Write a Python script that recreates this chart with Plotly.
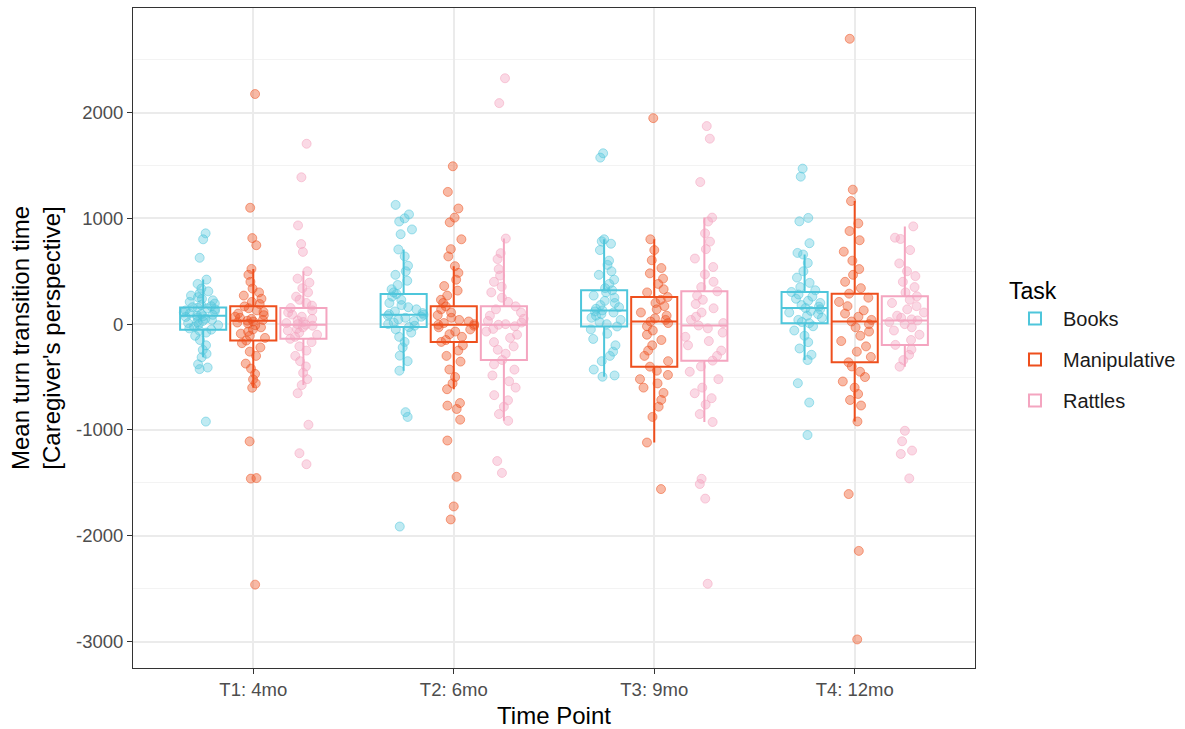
import plotly.graph_objects as go

time_points = ["T1: 4mo", "T2: 6mo", "T3: 9mo", "T4: 12mo"]
tasks = ["Books", "Manipulative", "Rattles"]

books_t1 = [858, 802, 627, 421, 380, 336, 310, 290, 270, 255, 240, 225, 210, 195, 180, 170, 160, 155,
            150, 140, 130, 120, 110, 100, 95, 88, 80, 75, 68, 60, 50, 40, 30, 20, 10, 0, -10, -25, -40,
            -52, -60, -80, -110, -150, -200, -243, -280, -313, -380, -410, -425, -921]
books_t2 = [1127, 1037, 1000, 970, 895, 850, 706, 640, 552, 500, 466, 410, 370, 330, 300, 285, 260, 230,
            200, 180, 160, 140, 120, 105, 95, 89, 80, 70, 60, 45, 30, 15, 0, -15, -28, -50, -80, -120,
            -168, -220, -298, -350, -440, -832, -877, -1913]
books_t3 = [1615, 1574, 802, 783, 760, 700, 600, 560, 500, 466, 420, 380, 340, 320, 300, 270, 250, 220,
            200, 180, 160, 145, 130, 120, 110, 95, 80, 60, 40, 20, 0, -22, -50, -90, -140, -200, -260,
            -300, -350, -429, -485, -497]
books_t4 = [1470, 1394, 1004, 972, 765, 673, 658, 578, 500, 440, 390, 350, 320, 304, 280, 260, 240, 220,
            200, 180, 165, 152, 140, 125, 110, 95, 80, 60, 40, 20, 9, -20, -60, -110, -170, -230, -290,
            -339, -558, -741, -1048]

manip_t1 = [2175, 1100, 813, 746, 522, 466, 400, 336, 300, 270, 240, 210, 190, 168, 150, 130, 115, 100,
            85, 70, 60, 50, 40, 32, 25, 15, 5, -10, -30, -50, -70, -90, -110, -130, -155, -180, -220,
            -260, -300, -373, -420, -470, -522, -560, -601, -1108, -1455, -1460, -2462]
manip_t2 = [1492, 1250, 1093, 1007, 962, 802, 709, 640, 548, 485, 420, 360, 317, 270, 230, 200, 168, 140,
            110, 85, 60, 40, 25, 10, 0, -6, -15, -30, -50, -70, -95, -120, -150, -168, -200, -250, -300,
            -354, -429, -500, -560, -615, -746, -770, -802, -903, -1100, -1443, -1723, -1846]
manip_t3 = [1947, 802, 700, 604, 530, 480, 430, 380, 330, 300, 256, 230, 200, 170, 140, 110, 80, 55, 40,
            25, 10, -20, -60, -100, -150, -200, -250, -300, -350, -402, -440, -480, -520, -560, -600,
            -650, -716, -780, -877, -1119, -1559]
manip_t4 = [2697, 1271, 1163, 952, 880, 793, 685, 600, 520, 466, 400, 340, 288, 250, 210, 170, 130, 100,
            70, 40, 25, 0, -30, -70, -110, -160, -210, -260, -310, -361, -400, -450, -500, -542, -600,
            -660, -717, -769, -920, -1606, -2143, -2980]

rattles_t1 = [1705, 1388, 933, 757, 683, 500, 430, 392, 340, 300, 260, 230, 200, 175, 152, 130, 110, 90,
              70, 50, 35, 20, 10, 0, -6, -15, -30, -45, -60, -80, -100, -120, -139, -170, -210, -250,
              -300, -350, -400, -460, -520, -576, -653, -951, -1220, -1324]
rattles_t2 = [2324, 2089, 809, 671, 615, 520, 459, 400, 354, 300, 250, 210, 168, 140, 110, 80, 50, 30, 15,
              0, -6, -20, -45, -70, -100, -130, -170, -210, -242, -280, -339, -380, -430, -485, -540,
              -600, -671, -720, -780, -850, -914, -1294, -1406]
rattles_t3 = [1872, 1753, 1343, 1007, 970, 858, 780, 709, 620, 540, 470, 400, 350, 310, 270, 230, 190,
              150, 110, 70, 40, 10, -13, -40, -80, -120, -160, -200, -250, -300, -345, -400, -450, -520,
              -600, -653, -700, -760, -850, -925, -1462, -1511, -1649, -2454]
rattles_t4 = [924, 817, 805, 700, 574, 500, 454, 400, 350, 300, 263, 230, 200, 170, 140, 110, 80, 60, 45,
              35, 20, 0, -30, -60, -100, -150, -196, -240, -290, -340, -402, -1008, -1107, -1195, -1227,
              -1458]

# ---- box statistics per time point ----
books_q1 = [-54, -28, -22, 9]
books_median = [79, 89, 130, 152]
books_q3 = [158, 285, 320, 304]
books_lower = [-313, -440, -497, -339]
books_upper = [421, 706, 802, 658]

manip_q1 = [-155, -168, -402, -361]
manip_median = [32, -6, 25, 25]
manip_q3 = [168, 168, 256, 288]
manip_lower = [-601, -615, -1119, -920]
manip_upper = [522, 548, 802, 1163]

rattles_q1 = [-139, -339, -345, -196]
rattles_median = [-6, -6, -13, 35]
rattles_q3 = [152, 168, 310, 263]
rattles_lower = [-576, -914, -925, -402]
rattles_upper = [500, 809, 1007, 924]

y_ticks = [-3000, -2000, -1000, 0, 1000, 2000]

groups = {
    "Books": [books_t1, books_t2, books_t3, books_t4],
    "Manipulative": [manip_t1, manip_t2, manip_t3, manip_t4],
    "Rattles": [rattles_t1, rattles_t2, rattles_t3, rattles_t4],
}
stats = {
    "Books": (books_q1, books_median, books_q3, books_lower, books_upper),
    "Manipulative": (manip_q1, manip_median, manip_q3, manip_lower, manip_upper),
    "Rattles": (rattles_q1, rattles_median, rattles_q3, rattles_lower, rattles_upper),
}

line_colors = {"Books": "#4EC6DB", "Manipulative": "#EE4F1D", "Rattles": "#F4A5C0"}
fill_pts = {"Books": "rgba(78,198,219,0.36)", "Manipulative": "rgba(238,79,29,0.40)",
            "Rattles": "rgba(244,165,192,0.42)"}
rim_pts = {"Books": "rgba(78,198,219,0.5)", "Manipulative": "rgba(238,79,29,0.5)",
           "Rattles": "rgba(244,165,192,0.55)"}

fig = go.Figure()

for task in tasks:
    q1, med, q3, lo, hi = stats[task]
    fig.add_trace(go.Box(
        name=task, x=time_points, q1=q1, median=med, q3=q3, lowerfence=lo, upperfence=hi,
        offsetgroup=task, legendgroup=task, boxpoints=False,
        line=dict(color=line_colors[task], width=2), fillcolor="rgba(255,255,255,0)",
        whiskerwidth=0, hoverinfo="skip",
    ))

for task in tasks:
    xs, ys = [], []
    for tp, vals in zip(time_points, groups[task]):
        xs += [tp] * len(vals)
        ys += vals
    fig.add_trace(go.Box(
        name=task, x=xs, y=ys, offsetgroup=task, legendgroup=task, showlegend=False,
        boxpoints="all", jitter=0.9, pointpos=0,
        line=dict(width=0, color="rgba(0,0,0,0)"), fillcolor="rgba(0,0,0,0)",
        marker=dict(color=fill_pts[task], size=9, line=dict(width=1, color=rim_pts[task])),
    ))

font_family = "Liberation Sans, Arial, Helvetica, sans-serif"

fig.update_layout(
    width=1185, height=729,
    margin=dict(l=133, r=210, t=8, b=61, autoexpand=False),
    paper_bgcolor="white", plot_bgcolor="white",
    boxmode="group", boxgap=0.25, boxgroupgap=0.08,
    font=dict(family=font_family, color="#1a1a1a"),
    showlegend=True,
    legend=dict(
        title=dict(text="Task", font=dict(size=23, color="black")),
        font=dict(size=20, color="#1a1a1a"),
        x=1.038, xanchor="left", y=0.49, yanchor="middle",
        tracegroupgap=12, itemwidth=46, bgcolor="rgba(0,0,0,0)",
    ),
    xaxis=dict(
        type="category", categoryorder="array", categoryarray=time_points,
        range=[-0.6, 3.6], showgrid=True, gridcolor="#EBEBEB", gridwidth=1.5,
        showline=True, mirror=True, linecolor="#333333", linewidth=1,
        ticks="outside", ticklen=5, tickcolor="#333333",
        tickfont=dict(size=18.5, color="#4d4d4d"),
        title=dict(text="Time Point", font=dict(size=24, color="black"), standoff=8),
        zeroline=False, automargin=False,
    ),
    yaxis=dict(
        range=[-3250, 2988], tickmode="array", tickvals=y_ticks,
        ticktext=[str(v) for v in y_ticks],
        showgrid=True, gridcolor="#EBEBEB", gridwidth=1.5,
        minor=dict(dtick=500, tick0=0, showgrid=True, gridcolor="#F3F3F3", gridwidth=1),
        showline=True, mirror=True, linecolor="#333333", linewidth=1,
        ticks="outside", ticklen=5, tickcolor="#333333",
        tickfont=dict(size=18.5, color="#4d4d4d"),
        title=dict(text="Mean turn transition time<br>[Caregiver's perspective]",
                   font=dict(size=24, color="black"), standoff=8),
        zeroline=False, automargin=False,
    ),
)

fig.write_html("out.html")
